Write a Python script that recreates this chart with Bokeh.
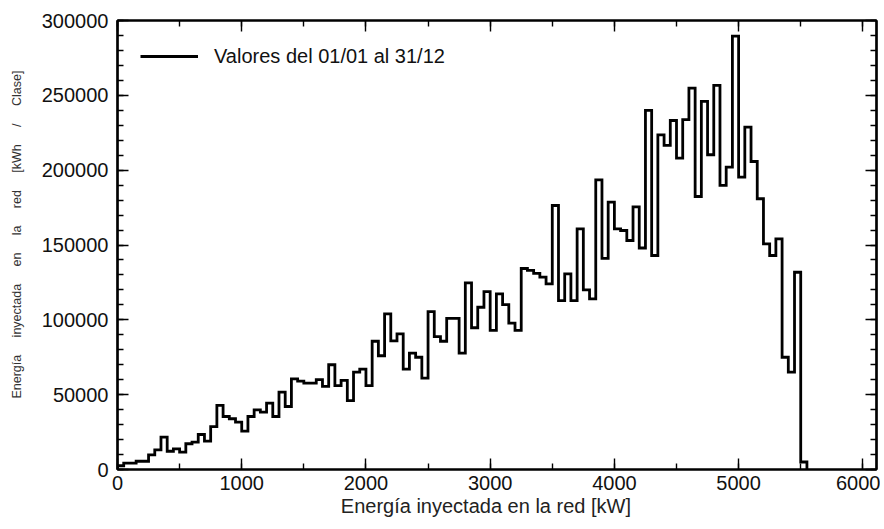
import numpy as np
from bokeh.plotting import figure
from bokeh.models import (Range1d, LinearAxis, SingleIntervalTicker,
                          NumeralTickFormatter, CustomJSTickFormatter,
                          Legend, LegendItem)
from bokeh.embed import file_html
from bokeh.resources import INLINE

# ---- data ----
bin_width_kw = 50
clase_inicio_kw = list(range(0, 5550, bin_width_kw))   # lower edge of each class
energia_kwh = [
    2500, 4200, 4200, 5500, 5500, 9800, 13100, 21600, 12200, 13800,
    11600, 17200, 18300, 23400, 18900, 28700, 42800, 35400, 33900, 31600,
    25600, 35400, 39900, 38300, 44300, 35400, 51700, 42100, 60600, 59000,
    57700, 57700, 60000, 55500, 70000, 56000, 59500, 46000, 65000, 67000,
    56000, 85700, 76000, 104000, 86000, 90600, 67000, 77700, 75000, 61000,
    105500, 88800, 85700, 101000, 101000, 77700, 124700, 94700, 108400, 118900,
    92900, 117400, 110200, 97800, 92900, 134300, 133000, 131000, 128600, 124000,
    176400, 112900, 130700, 112900, 160800, 120000, 114000, 193500, 141000, 178600,
    160800, 159700, 153000, 175500, 148000, 240000, 143000, 223600, 216500, 233200,
    208000, 233800, 254800, 182400, 245900, 210300, 256600, 189800, 202000, 289500,
    195300, 228700, 205800, 180900, 150800, 143000, 154100, 75000, 65000, 131800,
    5000,
]
legend_label = "Valores del 01/01 al 31/12"
x_label = "Energía inyectada en la red [kW]" + "\u00a0" * 4
_gap = "\u00a0\u00a0\u00a0\u00a0 "
y_label = ("\u00a0" * 6) + _gap.join(
    ["Energía", "inyectada", "en", "la", "red", "[kWh", "/", "Clase]"])

# ---- step outline built from the data ----
xs, ys = [clase_inicio_kw[0]], [0]
for x0, v in zip(clase_inicio_kw, energia_kwh):
    xs += [x0, x0 + bin_width_kw]
    ys += [v, v]
xs.append(clase_inicio_kw[-1] + bin_width_kw)
ys.append(0)

FONT = "Liberation Sans"

p = figure(width=880, height=527, output_backend="svg", toolbar_location=None,
           x_range=Range1d(0, 6110), y_range=Range1d(0, 300000),
           min_border_left=117, min_border_right=4, min_border_top=20,
           min_border_bottom=58)
p.background_fill_color = "white"
p.border_fill_color = "white"
p.grid.visible = False
p.outline_line_color = "black"
p.outline_line_width = 2.2

r = p.line(xs, ys, line_width=2.8, line_color="black", line_join="miter")

xt = SingleIntervalTicker(interval=1000, num_minor_ticks=2)
yt = SingleIntervalTicker(interval=50000, num_minor_ticks=5)

def style(ax, labels=True):
    ax.axis_line_color = "black"
    ax.axis_line_width = 2.2
    ax.major_tick_in = 11
    ax.major_tick_out = 0
    ax.minor_tick_in = 6
    ax.minor_tick_out = 0
    ax.major_tick_line_color = "black"
    ax.minor_tick_line_color = "black"
    ax.major_tick_line_width = 1.4
    ax.minor_tick_line_width = 1.4
    if labels:
        ax.major_label_text_font = FONT
        ax.major_label_text_font_size = "20px"
        ax.major_label_text_color = "#111111"
    else:
        ax.formatter = CustomJSTickFormatter(code="return ''")
        ax.major_label_text_font_size = "1px"
        ax.major_label_standoff = 0

xa = p.xaxis[0]
xa.ticker = xt
style(xa)
xa.major_label_standoff = 6
xa.axis_label = x_label
xa.axis_label_text_font = FONT
xa.axis_label_text_font_size = "20px"
xa.axis_label_text_font_style = "normal"
xa.axis_label_text_color = "#222222"
xa.axis_label_standoff = 2

ya = p.yaxis[0]
ya.ticker = yt
ya.formatter = NumeralTickFormatter(format="0")
style(ya)
ya.major_label_standoff = 9
ya.axis_label = y_label
ya.axis_label_text_font = FONT
ya.axis_label_text_font_size = "12.5px"
ya.axis_label_text_font_style = "normal"
ya.axis_label_text_color = "#333333"
ya.axis_label_standoff = 15

top = LinearAxis(ticker=SingleIntervalTicker(interval=1000, num_minor_ticks=2))
style(top, labels=False)
p.add_layout(top, "above")
right = LinearAxis(ticker=SingleIntervalTicker(interval=50000, num_minor_ticks=5))
style(right, labels=False)
p.add_layout(right, "right")

legend = Legend(items=[LegendItem(label=legend_label, renderers=[r])],
                location="top_left", border_line_color=None,
                background_fill_alpha=0, label_text_font=FONT,
                label_text_font_size="20px", label_text_color="#111111",
                glyph_width=58, glyph_height=26, label_standoff=16,
                margin=23, padding=12)
p.add_layout(legend)

open("out.html", "w").write(file_html(p, INLINE))
